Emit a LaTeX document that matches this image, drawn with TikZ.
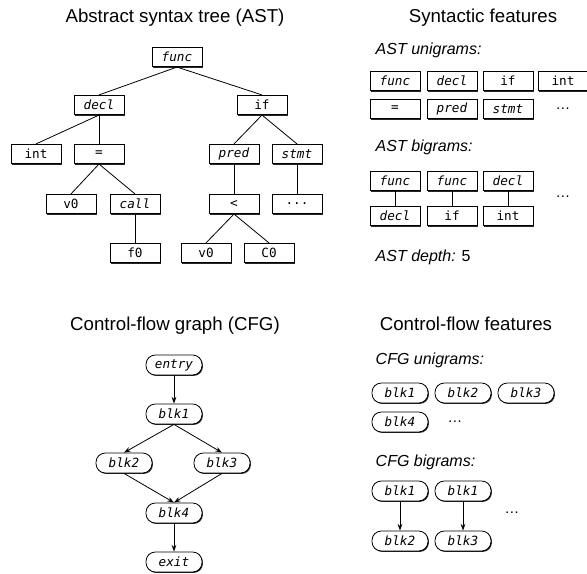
\documentclass[tikz,border=0pt]{standalone}
\usepackage{fontspec}
\setmainfont{Liberation Sans}
\setmonofont{DejaVu Sans Mono}
\usetikzlibrary{arrows.meta,shadows}

\tikzset{
  astbox/.style={draw=black,fill=white,line width=0.6pt,minimum width=37.5pt,minimum height=14.5pt,inner sep=0pt,
    font=\ttfamily\fontsize{9.5}{9.5}\selectfont,
    drop shadow={shadow xshift=0.7pt,shadow yshift=-0.7pt,fill=black,opacity=0.85}},
  astit/.style={astbox,font=\ttfamily\itshape\fontsize{9.5}{9.5}\selectfont},
  cfgbox/.style={astit,rounded corners=7pt,minimum width=42pt,minimum height=15pt},
  ttl/.style={anchor=base,font=\fontsize{14}{14}\selectfont},
  lbl/.style={anchor=base west,font=\itshape\fontsize{12}{12}\selectfont},
  more/.style={font=\fontsize{11}{11}\selectfont},
  edge/.style={line width=0.6pt},
  flow/.style={line width=0.6pt,-{Stealth[length=5pt,width=3.5pt]}}
}

\begin{document}
\begin{tikzpicture}[x=0.75pt,y=-0.75pt]
\useasboundingbox (0,0) rectangle (587,574);

\node[ttl] (asttitle) at (175,23) {Abstract syntax tree (AST)};
\node[ttl] (syntitle) at (483,23) {Syntactic features};
\node[ttl] (cfgtitle) at (175,331) {Control-flow graph (CFG)};
\node[ttl] (flowtitle) at (466,331) {Control-flow features};

\node[astit] (func) at (177,57) {func};
\node[astit] (decl) at (99,105) {decl};
\node[astbox] (if) at (262,105) {if};
\node[astbox] (int) at (36,154) {int};
\node[astbox] (eq) at (99,154) {=};
\node[astit] (pred) at (234,154) {pred};
\node[astit] (stmt) at (297,154) {stmt};
\node[astbox] (va) at (71,204) {v0};
\node[astit] (call) at (135,204) {call};
\node[astbox] (lt) at (234,204) {<};
\node[astbox] (rest) at (297,204) {...};
\node[astbox] (f0) at (135,253) {f0};
\node[astbox] (vb) at (206,253) {v0};
\node[astbox] (c0) at (269,253) {C0};

\draw[edge] (func.south) -- (decl.north);
\draw[edge] (func.south) -- (if.north);
\draw[edge] (decl.south) -- (int.north);
\draw[edge] (decl.south) -- (eq.north);
\draw[edge] (if.south) -- (pred.north);
\draw[edge] (if.south) -- (stmt.north);
\draw[edge] (eq.south) -- (va.north);
\draw[edge] (eq.south) -- (call.north);
\draw[edge] (call.south) -- (f0.north);
\draw[edge] (pred.south) -- (lt.north);
\draw[edge] (stmt.south) -- (rest.north);
\draw[edge] (lt.south) -- (vb.north);
\draw[edge] (lt.south) -- (c0.north);

\node[lbl] (unilbl) at (371,55) {AST unigrams:};
\node[astit] (ua) at (395,81) {func};
\node[astit] (ub) at (452,81) {decl};
\node[astbox] (uc) at (508,81) {if};
\node[astbox] (ud) at (563,81) {int};
\node[astbox] (ue) at (395,109) {=};
\node[astit] (uf) at (452,109) {pred};
\node[astit] (ug) at (508,109) {stmt};
\node[more] (umore) at (563,109) {\ldots};

\node[lbl] (bilbl) at (371,152) {AST bigrams:};
\node[astit] (ba) at (395,181) {func};
\node[astit] (bb) at (452,181) {func};
\node[astit] (bc) at (508,181) {decl};
\node[astit] (bd) at (395,216) {decl};
\node[astbox] (be) at (452,216) {if};
\node[astbox] (bf) at (508,216) {int};
\node[more] (bmore) at (563,197) {\ldots};
\draw[edge] (ba.south) -- (bd.north);
\draw[edge] (bb.south) -- (be.north);
\draw[edge] (bc.south) -- (bf.north);

\node[lbl] (depth) at (371,262) {AST depth: \upshape 5};

\node[cfgbox] (entry) at (174,365) {entry};
\node[cfgbox] (blka) at (174,414) {blk1};
\node[cfgbox] (blkb) at (124,463) {blk2};
\node[cfgbox] (blkc) at (222,463) {blk3};
\node[cfgbox] (blkd) at (174,513) {blk4};
\node[cfgbox] (exit) at (174,562) {exit};

\draw[flow] (entry.south) -- (blka.north);
\draw[flow] (blka.south) -- (blkb.north);
\draw[flow] (blka.south) -- (blkc.north);
\draw[flow] (blkb.south) -- (blkd.north);
\draw[flow] (blkc.south) -- (blkd.north);
\draw[flow] (blkd.south) -- (exit.north);

\node[lbl] (cunilbl) at (371,365) {CFG unigrams:};
\node[cfgbox] (ca) at (400,393) {blk1};
\node[cfgbox] (cb) at (463,393) {blk2};
\node[cfgbox] (cc) at (526,393) {blk3};
\node[cfgbox] (cd) at (400,422) {blk4};
\node[more] (cmore) at (455,422) {\ldots};

\node[lbl] (cbilbl) at (371,467) {CFG bigrams:};
\node[cfgbox] (da) at (400,491) {blk1};
\node[cfgbox] (db) at (463,491) {blk1};
\node[cfgbox] (dc) at (400,541) {blk2};
\node[cfgbox] (dd) at (463,541) {blk3};
\node[more] (dmore) at (512,513) {\ldots};
\draw[flow] (da.south) -- (dc.north);
\draw[flow] (db.south) -- (dd.north);
\end{tikzpicture}
\end{document}
